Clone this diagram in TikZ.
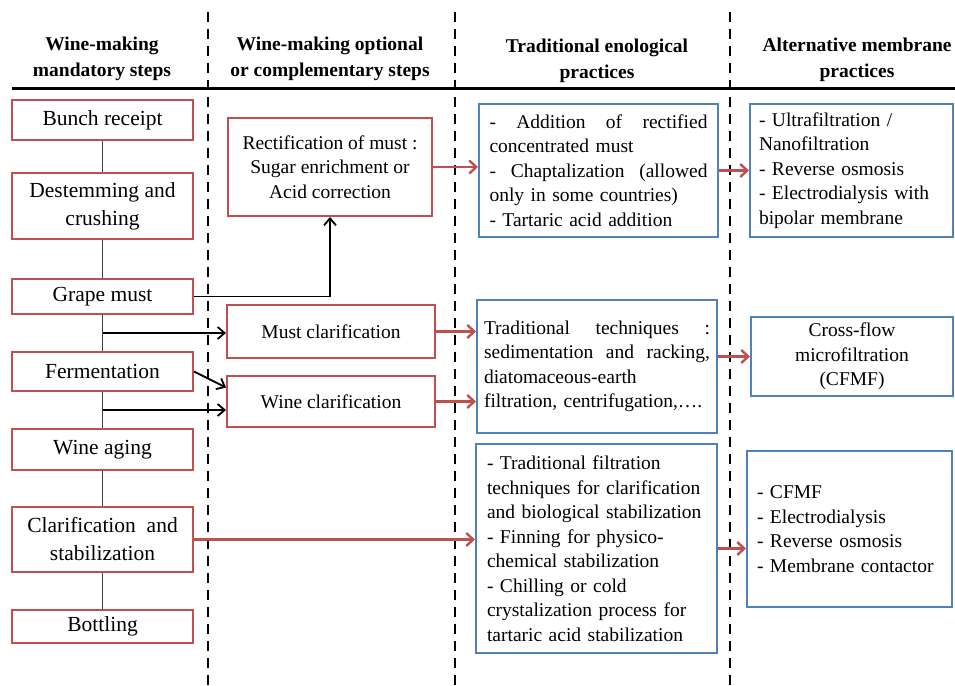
\documentclass[tikz,border=0pt]{standalone}
\usepackage{fontspec}
\setmainfont{Liberation Serif}
\usetikzlibrary{arrows.meta}
\definecolor{boxred}{HTML}{C0504D}
\definecolor{boxblue}{HTML}{4F81BD}
\newcommand\fullline[1]{\makebox[\hsize][s]{#1}}
\begin{document}
\begin{tikzpicture}[x=1pt,y=-1pt,
  txt/.style={font=\fontsize{19.5}{24.5}\selectfont},
  bigtxt/.style={font=\fontsize{21.5}{28}\selectfont},
  hdr/.style={font=\bfseries\fontsize{19.5}{26}\selectfont, align=center, inner sep=0pt},
  redbox/.style={draw=boxred, line width=2pt, inner sep=0pt, align=center, txt},
  stepbox/.style={redbox, bigtxt, minimum width=181pt},
  bluebox/.style={draw=boxblue, line width=2pt, inner sep=0pt, txt},
  sep/.style={line width=2.8pt, dash pattern=on 10pt off 7pt},
  link/.style={draw=black!75, line width=1.3pt},
  blk/.style={line width=1.8pt, -{Straight Barb[length=7pt,width=12pt]}},
  redarr/.style={draw=boxred, line width=2.4pt, -{Straight Barb[length=7pt,width=13pt]}},
]
\useasboundingbox (0,0) rectangle (955,685);

% separators
\draw[sep] (208,12) -- (208,685);
\draw[sep] (455,12) -- (455,685);
\draw[sep] (730,12) -- (730,685);
\draw[line width=3pt] (12,88) -- (955,88);

% headers
\node[hdr] (h1) at (102,59) {Wine-making\\mandatory steps};
\node[hdr] (h2) at (330,59) {Wine-making optional\\or complementary steps};
\node[hdr] (h3) at (597,61) {Traditional enological\\practices};
\node[hdr] (h4) at (857,60) {Alternative membrane\\practices};

% mandatory steps
\node[stepbox, minimum height=40pt] (bunch) at (102.5,120) {Bunch receipt};
\node[stepbox, minimum height=66pt] (destem) at (102.5,206) {Destemming and\\crushing};
\node[stepbox, minimum height=35pt] (grape) at (102.5,296.5) {Grape must};
\node[stepbox, minimum height=39pt] (ferm) at (102.5,371.5) {Fermentation};
\node[stepbox, minimum height=41pt] (aging) at (102.5,449.5) {Wine aging};
\node[stepbox, minimum height=65pt] (clarstab) at (102.5,539.5) {Clarification\hspace{0.5em}and\\stabilization};
\node[stepbox, minimum height=33pt] (bottle) at (102.5,626.5) {Bottling};

% optional steps
\node[redbox, minimum width=204pt, minimum height=98pt] (rect) at (330,167) {Rectification of must :\\Sugar enrichment or\\Acid correction};
\node[redbox, minimum width=208pt, minimum height=53pt] (mustclar) at (331,331.5) {Must clarification};
\node[redbox, minimum width=208pt, minimum height=51pt] (wineclar) at (331,401.5) {Wine clarification};

% traditional practices
\node[bluebox, minimum width=239pt, minimum height=133pt, text width=218pt, align=left] (t1) at (598.5,170.5)
  {\fullline{-\hfill Addition\hfill of\hfill rectified}\\concentrated must\\\fullline{-\hfill Chaptalization\hfill (allowed}\\only in some countries)\\- Tartaric acid addition};
\node[bluebox, minimum width=240pt, minimum height=133pt, text width=226pt, align=left] (t2) at (597,366.5)
  {\fullline{Traditional\hfill techniques\hfill :}\\\fullline{sedimentation\hfill and\hfill racking,}\\diatomaceous-earth\\filtration, centrifugation,\ldots.};
\node[bluebox, minimum width=241pt, minimum height=209pt, text width=219pt, align=left] (t3) at (596.5,548.5)
  {- Traditional filtration\\techniques for clarification\\and biological stabilization\\- Finning for physico-\\chemical stabilization\\- Chilling or cold\\crystalization process for\\tartaric acid stabilization};

% membrane practices
\node[bluebox, minimum width=203pt, minimum height=133pt, text width=185pt, align=left] (a1) at (851.5,170.5)
  {- Ultrafiltration /\\Nanofiltration\\- Reverse osmosis\\- Electrodialysis with\\bipolar membrane};
\node[bluebox, minimum width=202pt, minimum height=79pt, align=center] (a2) at (852,356.5)
  {Cross-flow\\microfiltration\\(CFMF)};
\node[bluebox, minimum width=205pt, minimum height=156pt, text width=185pt, align=left] (a3) at (849.5,529)
  {- CFMF\\- Electrodialysis\\- Reverse osmosis\\- Membrane contactor};

% mandatory chain
\draw[link] (bunch) -- (destem);
\draw[link] (destem) -- (grape);
\draw[link] (grape) -- (ferm);
\draw[link] (ferm) -- (aging);
\draw[link] (aging) -- (clarstab);
\draw[link] (clarstab) -- (bottle);

% black arrows
\coordinate (m1) at (102.5,333);
\coordinate (m2) at (102.5,410);
\draw[blk] (grape.east) -| (rect.south);
\draw[blk] (m1) -- (m1 -| mustclar.west);
\draw[blk] (ferm.east) -- ([yshift=14pt]wineclar.west);
\draw[blk] (m2) -- (m2 -| wineclar.west);

% red arrows
\draw[redarr] (rect.east) -- (rect.east -| t1.west);
\draw[redarr] (t1.east) -- (a1.west);
\draw[redarr] (mustclar.east) -- (mustclar.east -| t2.west);
\draw[redarr] (wineclar.east) -- (wineclar.east -| t2.west);
\draw[redarr] (a2.west -| t2.east) -- (a2.west);
\draw[redarr] (clarstab.east) -- (clarstab.east -| t3.west);
\draw[redarr] (t3.east) -- (t3.east -| a3.west);
\end{tikzpicture}
\end{document}
